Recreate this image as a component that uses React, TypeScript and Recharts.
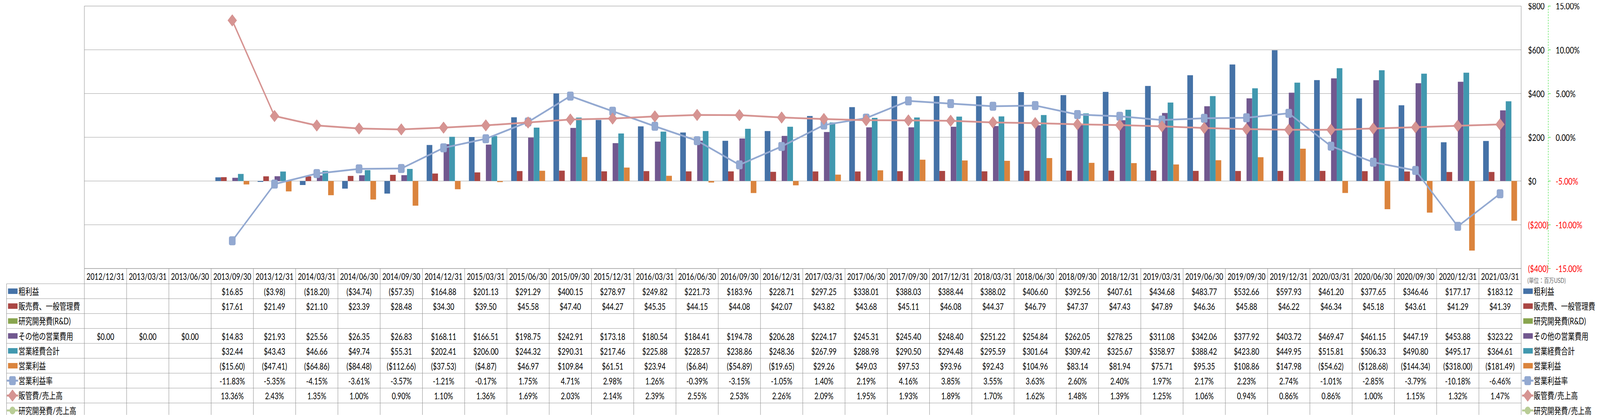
import { ComposedChart, Bar, Line, XAxis, YAxis, CartesianGrid } from 'recharts';

const dates = [
  '2012/12/31', '2013/03/31', '2013/06/30', '2013/09/30', '2013/12/31', '2014/03/31', '2014/06/30',
  '2014/09/30', '2014/12/31', '2015/03/31', '2015/06/30', '2015/09/30', '2015/12/31', '2016/03/31',
  '2016/06/30', '2016/09/30', '2016/12/31', '2017/03/31', '2017/06/30', '2017/09/30', '2017/12/31',
  '2018/03/31', '2018/06/30', '2018/09/30', '2018/12/31', '2019/03/31', '2019/06/30', '2019/09/30',
  '2019/12/31', '2020/03/31', '2020/06/30', '2020/09/30', '2020/12/31', '2021/03/31',
];

const grossProfit = [
  null, null, null, 16.85, -3.98, -18.2, -34.74, -57.35, 164.88, 201.13, 291.29, 400.15, 278.97, 249.82,
  221.73, 183.96, 228.71, 297.25, 338.01, 388.03, 388.44, 388.02, 406.6, 392.56, 407.61, 434.68, 483.77,
  532.66, 597.93, 461.2, 377.65, 346.46, 177.17, 183.12,
];

const sga = [
  null, null, null, 17.61, 21.49, 21.1, 23.39, 28.48, 34.3, 39.5, 45.58, 47.4, 44.27, 45.35, 44.15, 44.08,
  42.07, 43.82, 43.68, 45.11, 46.08, 44.37, 46.79, 47.37, 47.43, 47.89, 46.36, 45.88, 46.22, 46.34, 45.18,
  43.61, 41.29, 41.39,
];

const rnd: (number | null)[] = dates.map(() => null);

const otherOpex = [
  0, 0, 0, 14.83, 21.93, 25.56, 26.35, 26.83, 168.11, 166.51, 198.75, 242.91, 173.18, 180.54, 184.41,
  194.78, 206.28, 224.17, 245.31, 245.4, 248.4, 251.22, 254.84, 262.05, 278.25, 311.08, 342.06, 377.92,
  403.72, 469.47, 461.15, 447.19, 453.88, 323.22,
];

const totalOpex = [
  null, null, null, 32.44, 43.43, 46.66, 49.74, 55.31, 202.41, 206.0, 244.32, 290.31, 217.46, 225.88,
  228.57, 238.86, 248.36, 267.99, 288.98, 290.5, 294.48, 295.59, 301.64, 309.42, 325.67, 358.97, 388.42,
  423.8, 449.95, 515.81, 506.33, 490.8, 495.17, 364.61,
];

const opIncome = [
  null, null, null, -15.6, -47.41, -64.86, -84.48, -112.66, -37.53, -4.87, 46.97, 109.84, 61.51, 23.94,
  -6.84, -54.89, -19.65, 29.26, 49.03, 97.53, 93.96, 92.43, 104.96, 83.14, 81.94, 75.71, 95.35, 108.86,
  147.98, -54.62, -128.68, -144.34, -318.0, -181.49,
];

const opMargin = [
  null, null, null, -11.83, -5.35, -4.15, -3.61, -3.57, -1.21, -0.17, 1.75, 4.71, 2.98, 1.26, -0.39, -3.15,
  -1.05, 1.4, 2.19, 4.16, 3.85, 3.55, 3.63, 2.6, 2.4, 1.97, 2.17, 2.23, 2.74, -1.01, -2.85, -3.79, -10.18,
  -6.46,
];

const sgaRatio = [
  null, null, null, 13.36, 2.43, 1.35, 1.0, 0.9, 1.1, 1.36, 1.69, 2.03, 2.14, 2.39, 2.55, 2.53, 2.26, 2.09,
  1.95, 1.93, 1.89, 1.7, 1.62, 1.48, 1.39, 1.25, 1.06, 0.94, 0.86, 0.86, 1.0, 1.15, 1.32, 1.47,
];

const rndRatio: (number | null)[] = dates.map(() => null);

const usdTicks = [-400, -200, 0, 200, 400, 600, 800];
const pctTicks = [-15, -10, -5, 0, 5, 10, 15];

const C = {
  gross: '#4572A7',
  sga: '#AA4643',
  rnd: '#89A54E',
  other: '#71588F',
  opex: '#4198AF',
  opInc: '#DB843D',
  margin: '#93A9D1',
  sgaRatio: '#D69492',
  rndRatio: '#B9CD96',
};

const data = dates.map((d, i) => ({
  date: d,
  gross: grossProfit[i],
  sga: sga[i],
  rnd: rnd[i],
  other: otherOpex[i],
  opex: totalOpex[i],
  opInc: opIncome[i],
  margin: opMargin[i],
  sgaRatio: sgaRatio[i],
  rndRatio: rndRatio[i],
}));

// layout (in reference pixels; the whole thing is squeezed to the visible width)
const W = 5379;
const H = 1071;
const VISIBLE_W = 4096;
const SX = VISIBLE_W / W;
const PLOT_L = 283.6;
const PLOT_T = 15.5;
const PLOT_R = 5114;
const PLOT_B = 688;
const USD_AXIS_W = 91;
const PCT_AXIS_W = 150;
const CHART_H = 740;
const ROW_H = 38.2;
const LEG_COL_L = 22;
const COL_W = (PLOT_R - PLOT_L) / dates.length;

const FONT = "'Lato', 'Noto Sans CJK JP', sans-serif";
const GRID = '#8c8c8c';

const money = (v: number | null) =>
  v == null ? '' : v < 0 ? `($${Math.abs(v).toFixed(2)})` : `$${v.toFixed(2)}`;
const pct = (v: number | null) => (v == null ? '' : `${v.toFixed(2)}%`);

type Row = { label: string; kind: 'bar' | 'square' | 'diamond' | 'circle'; color: string; values: (number | null)[]; fmt: (v: number | null) => string };

const rows: Row[] = [
  { label: '粗利益', kind: 'bar', color: C.gross, values: grossProfit, fmt: money },
  { label: '販売費、一般管理費', kind: 'bar', color: C.sga, values: sga, fmt: money },
  { label: '研究開発費(R&D)', kind: 'bar', color: C.rnd, values: rnd, fmt: money },
  { label: 'その他の営業費用', kind: 'bar', color: C.other, values: otherOpex, fmt: money },
  { label: '営業経費合計', kind: 'bar', color: C.opex, values: totalOpex, fmt: money },
  { label: '営業利益', kind: 'bar', color: C.opInc, values: opIncome, fmt: money },
  { label: '営業利益率', kind: 'square', color: C.margin, values: opMargin, fmt: pct },
  { label: '販管費/売上高', kind: 'diamond', color: C.sgaRatio, values: sgaRatio, fmt: pct },
  { label: '研究開発費/売上高', kind: 'circle', color: C.rndRatio, values: rndRatio, fmt: pct },
];

function Marker({ kind, color, cx, cy }: { kind: string; color: string; cx: number; cy: number }) {
  if (kind === 'square') {
    return <rect x={cx - 10.5} y={cy - 11} width={21} height={22} rx={4} fill={color} stroke="#8aa0cb" strokeWidth={1} />;
  }
  if (kind === 'diamond') {
    return (
      <polygon
        points={`${cx},${cy - 15} ${cx + 15},${cy} ${cx},${cy + 15} ${cx - 15},${cy}`}
        fill={color}
        stroke="#cf8a88"
        strokeWidth={1}
      />
    );
  }
  return <circle cx={cx} cy={cy} r={10} fill={color} />;
}

function LegendItem({ row, x, cy }: { row: Row; x: number; cy: number }) {
  return (
    <g>
      {row.kind === 'bar' ? (
        <rect x={x + 4} y={cy - 7} width={32} height={14} fill={row.color} />
      ) : (
        <g>
          <line x1={x} y1={cy} x2={x + 38} y2={cy} stroke={row.color} strokeWidth={5} />
          <Marker kind={row.kind} color={row.color} cx={x + 19} cy={cy} />
        </g>
      )}
      <text x={x + 39} y={cy} dominantBaseline="central" fontSize={23} fontFamily={FONT} fill="#000">
        {row.label}
      </text>
    </g>
  );
}

const makeDot = (kind: string, color: string) => (props: any) => {
  const { cx, cy, index } = props;
  if (cx == null || cy == null || Number.isNaN(cy)) return <g key={index} />;
  return <g key={index}><Marker kind={kind} color={color} cx={cx} cy={cy} /></g>;
};

const UsdTick = (props: any) => {
  const v = props.payload.value as number;
  const label = v < 0 ? `($${-v})` : `$${v}`;
  return (
    <text x={props.x} y={props.y} textAnchor="start" dominantBaseline="central" fontSize={24} fontFamily={FONT} fill={v < 0 ? '#ff0000' : '#000'}>
      {label}
    </text>
  );
};

const PctTick = (props: any) => {
  const v = props.payload.value as number;
  return (
    <text x={props.x} y={props.y} textAnchor="start" dominantBaseline="central" fontSize={24} fontFamily={FONT} fill={v < 0 ? '#ff0000' : '#000'}>
      {`${v.toFixed(2)}%`}
    </text>
  );
};

function DataTable() {
  const headerBottom = PLOT_B + ROW_H + 0.8;
  const bottom = headerBottom + rows.length * ROW_H;
  const colX = (i: number) => PLOT_L + i * COL_W;
  const rowTop = (r: number) => headerBottom + r * ROW_H;
  return (
    <svg width={W} height={H} style={{ position: 'absolute', left: 0, top: 0, pointerEvents: 'none' }}>
      <rect x={6.5} y={0.5} width={W - 7.5} height={H - 1} fill="none" stroke={GRID} strokeWidth={1.3} />
      <line x1={PLOT_L} y1={PLOT_T} x2={PLOT_L} y2={PLOT_B} stroke={GRID} strokeWidth={1.3} />
      <line x1={PLOT_R} y1={PLOT_T} x2={PLOT_R} y2={PLOT_B} stroke={GRID} strokeWidth={1.3} />
      <line x1={PLOT_L} y1={PLOT_T} x2={PLOT_R} y2={PLOT_T} stroke={GRID} />

      <line x1={PLOT_L} y1={PLOT_B} x2={PLOT_R} y2={PLOT_B} stroke={GRID} />
      {[headerBottom, ...rows.map((_, r) => rowTop(r + 1))].map((y, k) => (
        <line key={`h${k}`} x1={LEG_COL_L} y1={y} x2={PLOT_R} y2={y} stroke={GRID} />
      ))}
      <line x1={LEG_COL_L} y1={headerBottom} x2={LEG_COL_L} y2={bottom} stroke={GRID} strokeWidth={1.3} />
      {dates.map((_, i) => (
        <line key={`v${i}`} x1={colX(i)} y1={PLOT_B} x2={colX(i)} y2={bottom} stroke={GRID} strokeWidth={1.3} />
      ))}
      <line x1={PLOT_R} y1={PLOT_B} x2={PLOT_R} y2={bottom} stroke={GRID} strokeWidth={1.3} />

      {dates.map((d, i) => (
        <text key={d} x={colX(i) + COL_W / 2} y={(PLOT_B + headerBottom) / 2 + 1} textAnchor="middle" dominantBaseline="central" fontSize={23} fontFamily={FONT}>
          {d}
        </text>
      ))}

      {rows.map((row, r) => {
        const cy = rowTop(r) + ROW_H / 2;
        return (
          <g key={row.label}>
            <LegendItem row={row} x={LEG_COL_L + 1} cy={cy} />
            {row.values.map((v, i) => (
              <text key={i} x={colX(i) + COL_W / 2} y={cy + 1} textAnchor="middle" dominantBaseline="central" fontSize={23} fontFamily={FONT}>
                {row.fmt(v)}
              </text>
            ))}
            <LegendItem row={row} x={PLOT_R + 3} cy={cy} />
          </g>
        );
      })}

      <text x={5135} y={718} dominantBaseline="central" fontSize={17} fontFamily={FONT} fill="#6b6b6b">
        (単位：百万USD)
      </text>
    </svg>
  );
}

export default function App() {
  return (
    <div style={{ position: 'relative', width: VISIBLE_W, height: H, margin: -8, background: '#fff', overflow: 'hidden' }}>
      <div style={{ position: 'absolute', left: 0, top: 0, width: W, height: H, transform: `scaleX(${SX})`, transformOrigin: '0 0' }}>
        <div style={{ position: 'absolute', left: 0, top: 0 }}>
          <ComposedChart
            width={W}
            height={CHART_H}
            data={data}
            margin={{ top: PLOT_T, left: PLOT_L, bottom: CHART_H - PLOT_B, right: W - PLOT_R - USD_AXIS_W - PCT_AXIS_W }}
            barCategoryGap="10%"
            barGap={0}
          >
            <CartesianGrid yAxisId="amount" vertical={false} stroke={GRID} />
            <XAxis dataKey="date" hide />
            <YAxis
              yAxisId="pct"
              orientation="right"
              width={PCT_AXIS_W}
              domain={[-15, 15]}
              ticks={pctTicks}
              axisLine={{ stroke: '#22dd22', strokeDasharray: '4 3', strokeWidth: 1.3 }}
              tickLine={{ stroke: '#22dd22', strokeWidth: 1.3 }}
              tickSize={8}
              tickMargin={17}
              tick={PctTick}
            />
            <YAxis
              yAxisId="amount"
              orientation="right"
              width={USD_AXIS_W}
              domain={[-400, 800]}
              ticks={usdTicks}
              axisLine={false}
              tickLine={false}
              tickSize={0}
              tickMargin={23}
              tick={UsdTick}
            />
            <Bar yAxisId="amount" dataKey="gross" fill={C.gross} isAnimationActive={false} />
            <Bar yAxisId="amount" dataKey="sga" fill={C.sga} isAnimationActive={false} />
            <Bar yAxisId="amount" dataKey="rnd" fill={C.rnd} isAnimationActive={false} />
            <Bar yAxisId="amount" dataKey="other" fill={C.other} isAnimationActive={false} />
            <Bar yAxisId="amount" dataKey="opex" fill={C.opex} isAnimationActive={false} />
            <Bar yAxisId="amount" dataKey="opInc" fill={C.opInc} isAnimationActive={false} />
            <Line yAxisId="pct" dataKey="margin" stroke={C.margin} strokeWidth={4.5} dot={makeDot('square', C.margin)} activeDot={false} isAnimationActive={false} />
            <Line yAxisId="pct" dataKey="sgaRatio" stroke={C.sgaRatio} strokeWidth={4.5} dot={makeDot('diamond', C.sgaRatio)} activeDot={false} isAnimationActive={false} />
            <Line yAxisId="pct" dataKey="rndRatio" stroke={C.rndRatio} strokeWidth={4.5} dot={makeDot('circle', C.rndRatio)} activeDot={false} isAnimationActive={false} />
          </ComposedChart>
        </div>
        <DataTable />
      </div>
    </div>
  );
}
